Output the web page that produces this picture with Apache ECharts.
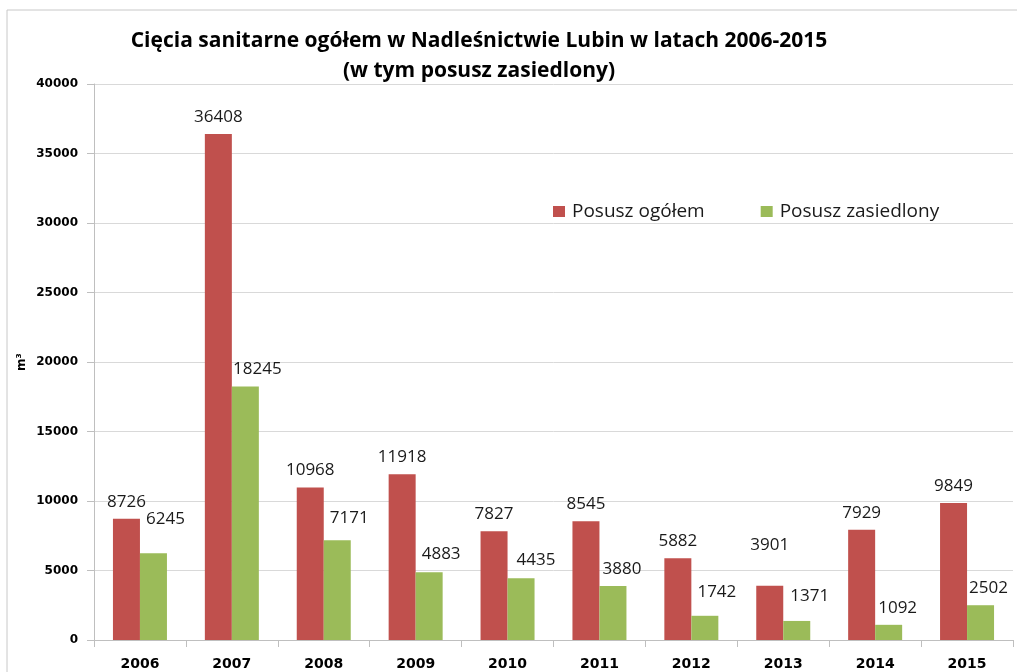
<!DOCTYPE html>
<html>
<head>
<meta charset="utf-8">
<script src="https://cdn.jsdelivr.net/npm/echarts@6/dist/echarts.min.js"></script>
<style>
  html, body { margin: 0; padding: 0; background: #ffffff; }
  #chart { width: 1017px; height: 672px; }
</style>
</head>
<body>
<div id="chart"></div>
<script>
// Sanitary cuttings in Lubin forest district, 2006-2015 (m³)
const years = ['2006', '2007', '2008', '2009', '2010', '2011', '2012', '2013', '2014', '2015'];
const posuszOgolem = [8726, 36408, 10968, 11918, 7827, 8545, 5882, 3901, 7929, 9849];
const posuszZasiedlony = [6245, 18245, 7171, 4883, 4435, 3880, 1742, 1371, 1092, 2502];
const yTicks = { min: 0, max: 40000, interval: 5000 };

// Label nudges [dx, dy] in px so the value labels do not collide
const ogolemLabelShift = [[0, 0], [0, 0], [0, 0], [0, 0], [0, 0], [0, 0], [0, 0], [0, -24], [0, 0], [0, 0]];
const zasiedlonyLabelShift = [[12, -17], [12, 0], [12, -5], [12, -1], [15, -1], [9, 0], [12, -7], [13, -8], [9, 0], [8, 0]];

const RED = '#C0504D';
const GREEN = '#9BBB59';
const GRID_GRAY = '#d9d9d9';
const AXIS_GRAY = '#bfbfbf';

function withShift(values, shifts) {
  return values.map((v, i) => ({ value: v, label: { offset: shifts[i] } }));
}

const valueLabel = {
  show: true,
  position: 'top',
  distance: 8,
  color: '#1a1a1a',
  fontFamily: '"Open Sans", sans-serif',
  fontSize: 17,
  lineHeight: 18
};

const chart = echarts.init(document.getElementById('chart'), null, { renderer: 'canvas' });

chart.setOption({
  backgroundColor: '#ffffff',
  animation: false,
  title: {
    text: 'Cięcia sanitarne ogółem w Nadleśnictwie Lubin w latach 2006-2015\n(w tym posusz zasiedlony)',
    left: 479,
    top: 26,
    padding: 0,
    textAlign: 'center',
    textStyle: {
      fontFamily: '"Open Sans", sans-serif',
      fontWeight: 'bold',
      fontSize: 21,
      lineHeight: 30,
      color: '#000000'
    }
  },
  legend: {
    left: 553,
    top: 202,
    padding: 0,
    itemWidth: 12,
    itemHeight: 11,
    itemGap: 56,
    icon: 'rect',
    textStyle: {
      fontFamily: '"Open Sans", sans-serif',
      fontSize: 19,
      color: '#1a1a1a',
      padding: [0, 0, 0, 2]
    },
    data: ['Posusz ogółem', 'Posusz zasiedlony']
  },
  grid: {
    left: 94,
    right: 4,
    top: 84,
    bottom: 32,
    containLabel: false
  },
  xAxis: {
    type: 'category',
    data: years,
    axisLine: { show: true, lineStyle: { color: AXIS_GRAY, width: 1 } },
    axisTick: { show: true, length: 7, alignWithLabel: false, lineStyle: { color: AXIS_GRAY } },
    axisLabel: {
      margin: 17,
      fontFamily: '"DejaVu Sans", sans-serif',
      fontWeight: 'bold',
      fontSize: 14,
      color: '#000000'
    },
    splitLine: { show: false }
  },
  yAxis: {
    type: 'value',
    min: yTicks.min,
    max: yTicks.max,
    interval: yTicks.interval,
    name: 'm³',
    nameLocation: 'middle',
    nameRotate: 90,
    nameGap: 66,
    nameMoveOverlap: false,
    nameTextStyle: {
      fontFamily: '"DejaVu Sans", sans-serif',
      fontWeight: 'bold',
      fontSize: 12,
      color: '#000000'
    },
    axisLine: { show: true, lineStyle: { color: AXIS_GRAY, width: 1 } },
    axisTick: { show: true, length: 7, lineStyle: { color: AXIS_GRAY } },
    axisLabel: {
      margin: 16,
      formatter: (v) => String(v),
      fontFamily: '"DejaVu Sans", sans-serif',
      fontWeight: 'bold',
      fontSize: 12,
      color: '#000000'
    },
    splitLine: { show: true, lineStyle: { color: GRID_GRAY, width: 1 } }
  },
  graphic: [
    {
      // chart frame along the top and left edges
      type: 'polyline',
      silent: true,
      shape: { points: [[7, 672], [7, 10], [1017, 10]] },
      style: { stroke: '#c8c8c8', lineWidth: 1, fill: null }
    }
  ],
  series: [
    {
      name: 'Posusz ogółem',
      type: 'bar',
      barWidth: 27,
      barGap: '0%',
      itemStyle: { color: RED },
      label: valueLabel,
      data: withShift(posuszOgolem, ogolemLabelShift)
    },
    {
      name: 'Posusz zasiedlony',
      type: 'bar',
      barWidth: 27,
      barGap: '0%',
      itemStyle: { color: GREEN },
      label: valueLabel,
      data: withShift(posuszZasiedlony, zasiedlonyLabelShift)
    }
  ]
});
</script>
</body>
</html>
